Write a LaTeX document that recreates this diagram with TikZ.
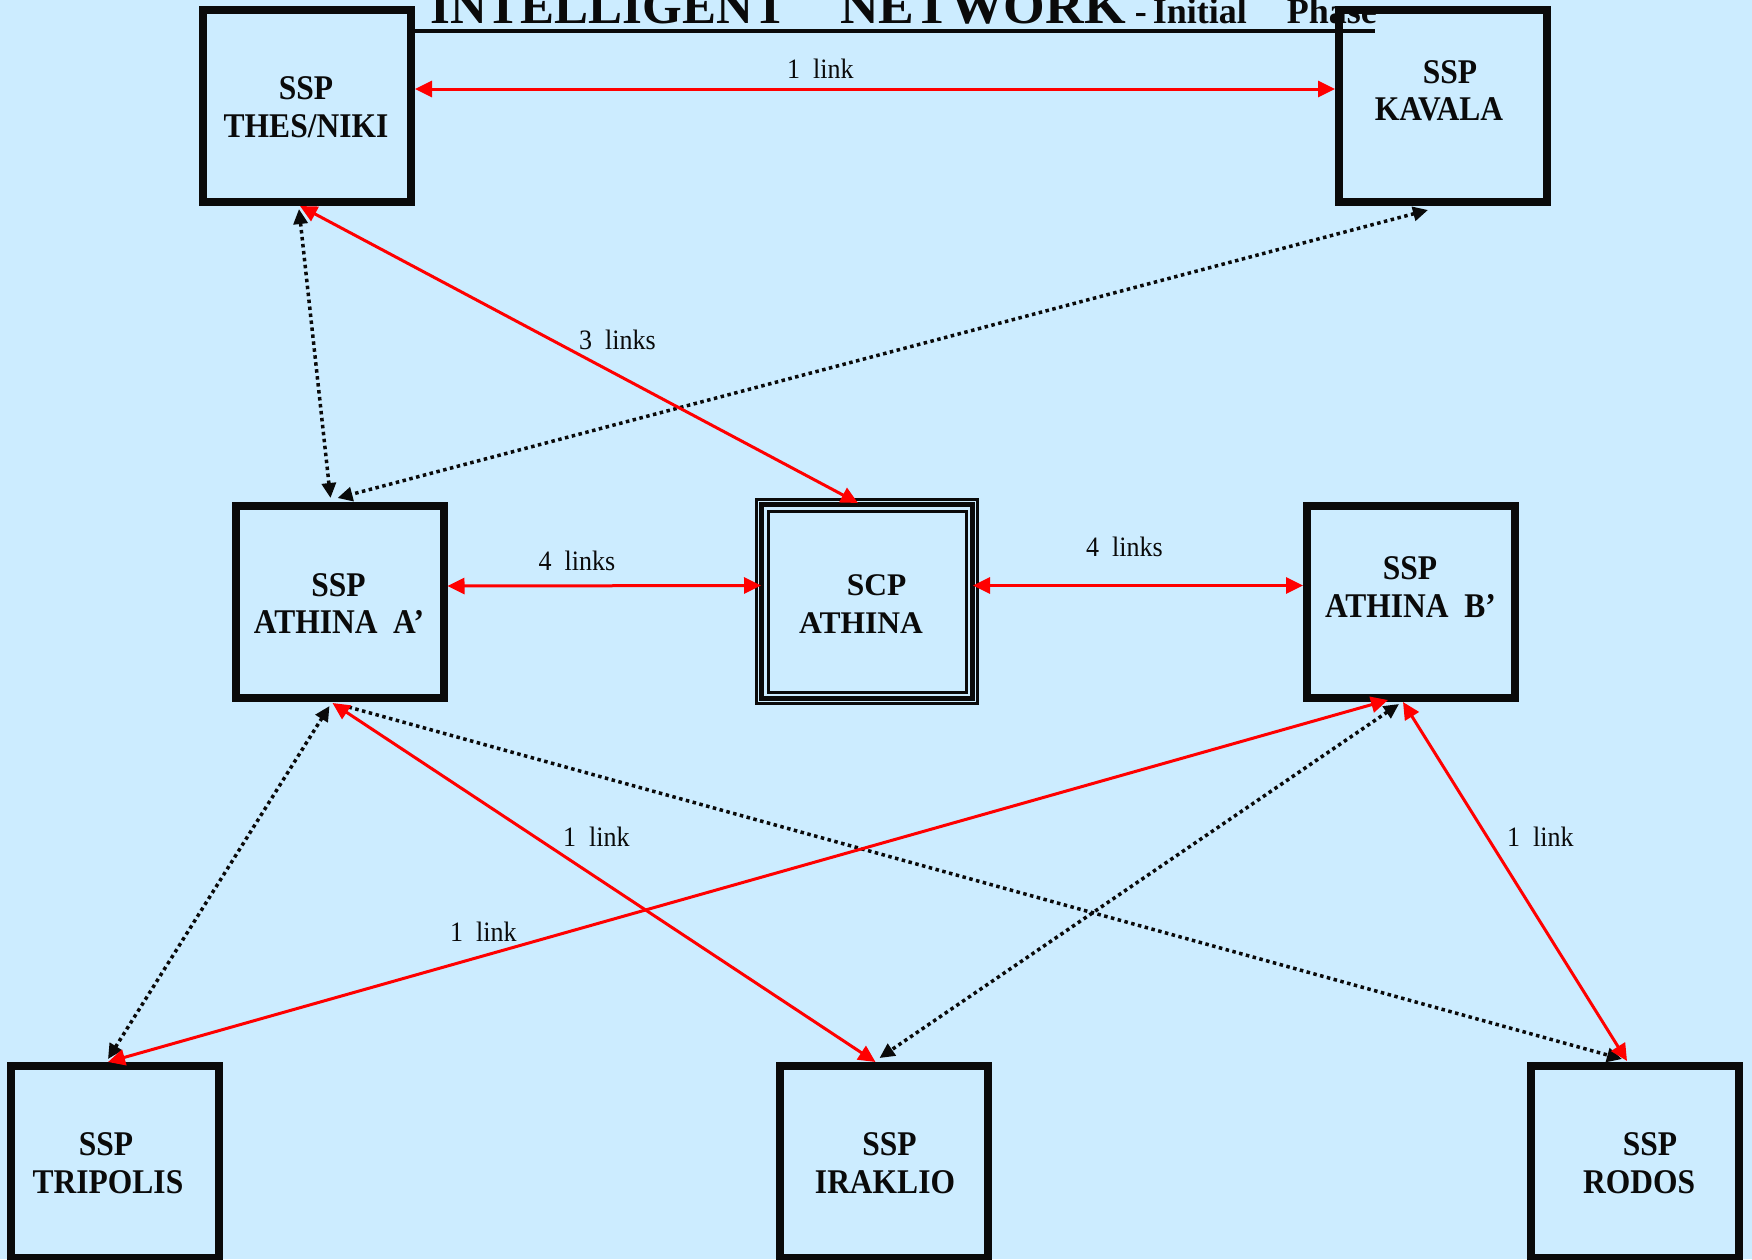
\documentclass[tikz,border=0pt]{standalone}
\usepackage{fontspec}
\usepackage{graphicx}
\setmainfont{Liberation Serif}
\usetikzlibrary{arrows.meta}
\definecolor{bgblue}{RGB}{204,236,255}
\definecolor{ink}{RGB}{10,10,10}
\definecolor{linkred}{RGB}{255,0,0}
\newcommand{\tallbox}[1]{\scalebox{1}[1.1]{#1}}
\newcommand{\tallink}[1]{\scalebox{1}[1.08]{#1}}

\begin{document}
\begin{tikzpicture}[x=1pt,y=-1pt,
  sspbox/.style={draw=ink, fill=bgblue, line width=8pt, minimum width=208pt,
    minimum height=192pt, inner sep=0pt},
  scpbox/.style={draw=ink, fill=bgblue, line width=3pt, minimum width=221pt,
    minimum height=204pt, inner sep=0pt},
  boxtext/.style={anchor=base, inner sep=0pt, text=ink,
    font=\fontsize{31.5}{31.5}\selectfont\bfseries},
  linktext/.style={anchor=base west, inner sep=0pt, text=ink,
    font=\fontsize{26}{26}\selectfont},
  redtip/.style={Triangle[length=17pt,width=16pt]},
  dottip/.style={Triangle[length=15pt,width=14pt]},
  redlink/.style={draw=linkred, line width=3pt, {Triangle[length=17pt,width=16pt]}-{Triangle[length=17pt,width=16pt]}},
  dotline/.style={draw=ink, line width=3.5pt, dash pattern=on 3.5pt off 3.5pt},
  dotlink/.style={dotline, {Triangle[length=15pt,width=14pt]}-{Triangle[length=15pt,width=14pt]}},
]
% background
\fill[bgblue] (0,0) rectangle (1752,1259);
\useasboundingbox (0,0) rectangle (1752,1259);

% switching points
\node[sspbox] (thes)  at (307,106)    {};
\node[sspbox] (kav)   at (1443,106)   {};
\node[sspbox] (athA)  at (339.5,602)  {};
\node[sspbox] (athB)  at (1411,602)   {};
\node[sspbox] (trip)  at (115,1162)   {};
\node[sspbox] (irak)  at (883.5,1162) {};
\node[sspbox] (rodos) at (1635,1162)  {};

% control point with its triple frame
\node[scpbox] (scp) at (867,601.5) {};
\draw[ink, line width=4.5pt] ([shift={(6.5,6.5)}]scp.north west)
  rectangle ([shift={(-6.5,-6.5)}]scp.south east);
\draw[ink, line width=3pt] ([shift={(13,13)}]scp.north west)
  rectangle ([shift={(-13,-13)}]scp.south east);

% box captions
\node[boxtext] (thes-a) at (306,99)    {\tallbox{SSP}};
\node[boxtext] (thes-b) at (306,137)   {\tallbox{THES/NIKI}};
\node[boxtext] (kav-a)  at (1450,83)   {\tallbox{SSP}};
\node[boxtext] (kav-b)  at (1439,120)  {\tallbox{KAVALA}};
\node[boxtext] (athA-a) at (338.5,596) {\tallbox{SSP}};
\node[boxtext] (athA-b) at (339,633)   {\tallbox{ATHINA\ \ A’}};
\node[boxtext] (athB-a) at (1410,579)  {\tallbox{SSP}};
\node[boxtext] (athB-b) at (1410.5,617){\tallbox{ATHINA\ \ B’}};
\node[boxtext] (scp-a)  at (876.5,595) {SCP};
\node[boxtext] (scp-b)  at (861,633)   {ATHINA};
\node[boxtext] (trip-a) at (106,1155)  {\tallbox{SSP}};
\node[boxtext] (trip-b) at (108,1193)  {\tallbox{TRIPOLIS}};
\node[boxtext] (irak-a) at (889.5,1155){\tallbox{SSP}};
\node[boxtext] (irak-b) at (885,1193)  {\tallbox{IRAKLIO}};
\node[boxtext] (rod-a)  at (1650,1155) {\tallbox{SSP}};
\node[boxtext] (rod-b)  at (1639,1193) {\tallbox{RODOS}};

% dotted signalling routes
\draw[dotlink] ([shift={(-8,3)}]thes.south) -- ([shift={(-9,-4)}]athA.north);
\draw[dotlink] ([shift={(-15,4)}]kav.south) -- ([shift={(-2,-4)}]athA.north);
\draw[dotlink] ([shift={(-10,4)}]athA.south) -- ([shift={(-7,-3)}]trip.north);
\draw[dotline, -{Triangle[length=15pt,width=14pt]}] ([shift={(9,5)}]athA.south) -- ([shift={(-13,-3)}]rodos.north);
\draw[dotlink] ([shift={(-12,2)}]athB.south) -- ([shift={(-4,-4)}]irak.north);

% red links
\draw[redlink] ([shift={(0,-17)}]thes.east) -- ([shift={(0,-17)}]kav.west);
\draw[redlink] ([shift={(-7,0)}]thes.south) -- ([shift={(-9,5)}]scp.north);
\draw[redlink] ([shift={(0,-16)}]athA.east) -- ([shift={(6,-16)}]scp.west);
\draw[redlink] ([shift={(-6,-16)}]scp.east) -- ([shift={(0,-16.5)}]athB.west);
\draw[redlink] ([shift={(-7,1)}]athA.south) -- ([shift={(-8,0)}]irak.north);
\draw[redlink] ([shift={(-23,-2)}]athB.south) -- ([shift={(-7,0)}]trip.north);
\draw[redlink] ([shift={(-8,0)}]athB.south) -- ([shift={(-8,-1)}]rodos.north);

% link counts
\node[linktext] (l-top)   at (787,78)   {\tallink{1\ \ link}};
\node[linktext] (l-scp)   at (579,349)  {\tallink{3\ \ links}};
\node[linktext] (l-a)     at (538.5,570){\tallink{4\ \ links}};
\node[linktext] (l-b)     at (1086,556) {\tallink{4\ \ links}};
\node[linktext] (l-irak)  at (563,846)  {\tallink{1\ \ link}};
\node[linktext] (l-trip)  at (450,941)  {\tallink{1\ \ link}};
\node[linktext] (l-rodos) at (1507,846) {\tallink{1\ \ link}};

% heading
\node[anchor=base west, inner sep=0pt, text=ink] (title) at (430,23)
  {\fontsize{51}{51}\selectfont\bfseries INTELLIGENT\hspace{53pt}\scalebox{1.05}[1]{NETWORK}%
   \fontsize{36}{36}\selectfont\ -\,Initial\hspace{40pt}Phase};
\draw[ink, line width=4pt] (413,31) -- (1375,31);
\end{tikzpicture}
\end{document}
